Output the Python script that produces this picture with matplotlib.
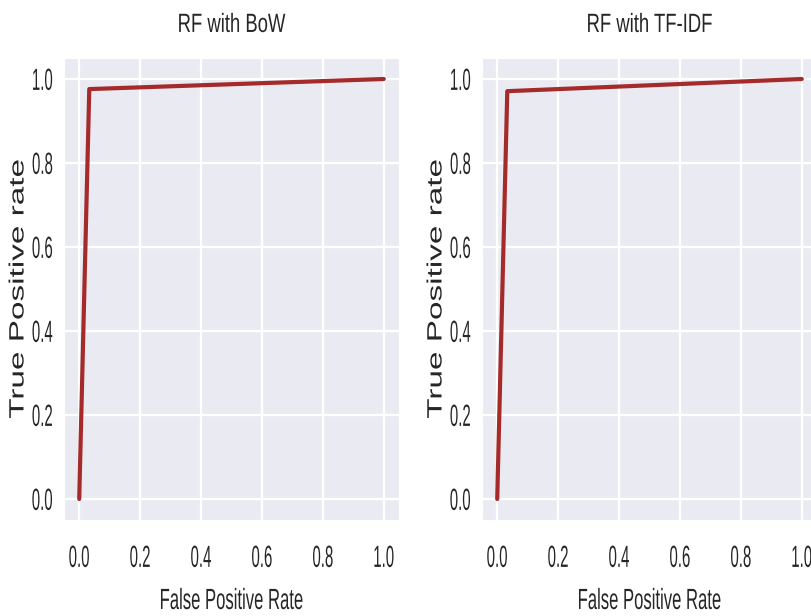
#ROC curves of the two random forest models, drawn side by side
import matplotlib
matplotlib.use("Agg")
import matplotlib.pyplot as plt
import seaborn as sns
from matplotlib.patheffects import AbstractPathEffect
from matplotlib.transforms import Affine2D

# points
fpr_bow = [0.0, 0.033, 1.0]
tpr_bow = [0.0, 0.976, 1.0]
fpr_tfidf = [0.0, 0.033, 1.0]
tpr_tfidf = [0.0, 0.971, 1.0]
titles = ["RF with BoW", "RF with TF-IDF"]
ticks = [0.0, 0.2, 0.4, 0.6, 0.8, 1.0]
tick_labels = ["0.0", "0.2", "0.4", "0.6", "0.8", "1.0"]


class Stretch(AbstractPathEffect):  # the reference text is tall and narrow
    def __init__(self, sx=1.0, sy=1.0, xref="center", yref="center"):
        super().__init__()
        self.sx, self.sy = sx, sy
        self.xref, self.yref = xref, yref

    def draw_path(self, renderer, gc, tpath, affine, rgbFace=None):
        bb = tpath.get_extents(affine)
        cx = {"left": bb.x0, "right": bb.x1}.get(self.xref, (bb.x0 + bb.x1) / 2)
        cy = {"bottom": bb.y0, "top": bb.y1}.get(self.yref, (bb.y0 + bb.y1) / 2)
        t = affine + Affine2D().translate(-cx, -cy).scale(self.sx, self.sy).translate(cx, cy)
        renderer.draw_path(gc, tpath, t, rgbFace)


sns.set_style("darkgrid")
plt.rcParams["font.family"] = ["Liberation Sans", "DejaVu Sans"]
text_col = "#262626"

fig = plt.figure(figsize=(8.12, 6.16), dpi=100)
lefts = [64 / 812, 482 / 812]
curves = [(fpr_bow, tpr_bow), (fpr_tfidf, tpr_tfidf)]
for left, title, (fpr, tpr) in zip(lefts, titles, curves):
    ax = fig.add_axes([left, 96 / 616, 335 / 812, 462 / 616])
    ax.plot(fpr, tpr, color="#a52a2a", lw=3, solid_capstyle="round")
    ax.set_xticks(ticks, tick_labels)
    ax.set_yticks(ticks, tick_labels)
    ax.tick_params(axis="x", labelsize=10.8, pad=18, length=0, labelcolor=text_col)
    ax.tick_params(axis="y", labelsize=10.8, pad=8, length=0, labelcolor=text_col)
    ax.grid(True, color="white", lw=1.6)
    ax.set_title(title, fontsize=13.3, pad=18.7, color=text_col,
                 path_effects=[Stretch(sy=1.43, yref="bottom")])
    ax.set_xlabel("False Positive Rate", fontsize=12, color=text_col,
                  path_effects=[Stretch(sy=1.75, yref="top")])
    ax.xaxis.set_label_coords(0.5, -0.147)
    ax.set_ylabel("True Positive rate", fontsize=14.9, va="center", color=text_col,
                  path_effects=[Stretch(sy=1.61)])
    ax.yaxis.set_label_coords(-46 / 335, 0.5)
    for lab in ax.get_xticklabels():
        lab.set_path_effects([Stretch(sy=2.04, yref="top")])
    for lab in ax.get_yticklabels():
        lab.set_path_effects([Stretch(sy=2.04, xref="right")])

fig.savefig("out.png", dpi=100)
plt.close()
